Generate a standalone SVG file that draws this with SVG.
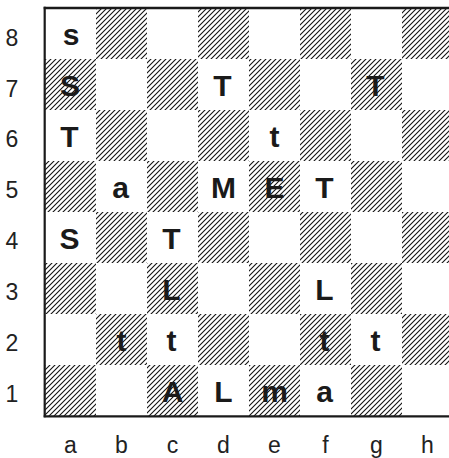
<svg xmlns="http://www.w3.org/2000/svg" width="449" height="458" viewBox="0 0 449 458">
<defs>
<pattern id="hatch" patternUnits="userSpaceOnUse" width="5" height="5">
<path d="M0,5 L5,0 M-1,1 L1,-1 M4,6 L6,4" stroke="#111" stroke-width="1.1"/>
</pattern>
</defs>
<style>
.dk{fill:url(#hatch)}
.pc{font-family:"Liberation Sans",Arial,sans-serif;font-weight:bold;font-size:30px;fill:#1a1a1a;text-anchor:middle}
.lb{font-family:"Liberation Sans",Arial,sans-serif;font-size:23px;fill:#222;text-anchor:middle}
.bd{stroke:#1a1a1a;fill:none}
</style>
<rect width="449" height="458" fill="#fff"/>
<g id="squares">
<rect class="dk" x="96" y="8" width="51" height="51"/><rect class="dk" x="198" y="8" width="51" height="51"/><rect class="dk" x="300" y="8" width="51" height="51"/><rect class="dk" x="402" y="8" width="51" height="51"/>
<rect class="dk" x="45" y="59" width="51" height="51"/><rect class="dk" x="147" y="59" width="51" height="51"/><rect class="dk" x="249" y="59" width="51" height="51"/><rect class="dk" x="351" y="59" width="51" height="51"/>
<rect class="dk" x="96" y="110" width="51" height="51"/><rect class="dk" x="198" y="110" width="51" height="51"/><rect class="dk" x="300" y="110" width="51" height="51"/><rect class="dk" x="402" y="110" width="51" height="51"/>
<rect class="dk" x="45" y="161" width="51" height="51"/><rect class="dk" x="147" y="161" width="51" height="51"/><rect class="dk" x="249" y="161" width="51" height="51"/><rect class="dk" x="351" y="161" width="51" height="51"/>
<rect class="dk" x="96" y="212" width="51" height="51"/><rect class="dk" x="198" y="212" width="51" height="51"/><rect class="dk" x="300" y="212" width="51" height="51"/><rect class="dk" x="402" y="212" width="51" height="51"/>
<rect class="dk" x="45" y="263" width="51" height="51"/><rect class="dk" x="147" y="263" width="51" height="51"/><rect class="dk" x="249" y="263" width="51" height="51"/><rect class="dk" x="351" y="263" width="51" height="51"/>
<rect class="dk" x="96" y="314" width="51" height="51"/><rect class="dk" x="198" y="314" width="51" height="51"/><rect class="dk" x="300" y="314" width="51" height="51"/><rect class="dk" x="402" y="314" width="51" height="51"/>
<rect class="dk" x="45" y="365" width="51" height="51"/><rect class="dk" x="147" y="365" width="51" height="51"/><rect class="dk" x="249" y="365" width="51" height="51"/><rect class="dk" x="351" y="365" width="51" height="51"/>
</g>
<g id="border">
<line class="bd" x1="43.7" y1="8" x2="449" y2="8" stroke-width="2.7"/>
<line class="bd" x1="44.7" y1="6.7" x2="44.7" y2="417.3" stroke-width="2.2"/>
<line class="bd" x1="43.7" y1="416.3" x2="449" y2="416.3" stroke-width="2.2"/>
</g>
<g id="pieces">
<g id="a8"><text class="pc" x="71" y="45">s</text></g>
<g id="a7"><text class="pc" x="70" y="96">S</text></g>
<g id="d7"><text class="pc" x="222.5" y="96">T</text></g>
<g id="g7"><text class="pc" x="375.5" y="96">T</text></g>
<g id="a6"><text class="pc" x="69.5" y="147">T</text></g>
<g id="e6"><text class="pc" x="274.5" y="147">t</text></g>
<g id="b5"><text class="pc" x="120.5" y="198">a</text></g>
<g id="d5"><text class="pc" x="223.5" y="198">M</text></g>
<g id="e5"><text class="pc" x="274.5" y="198">E</text></g>
<g id="f5"><text class="pc" x="324.5" y="198">T</text></g>
<g id="a4"><text class="pc" x="69.5" y="249">S</text></g>
<g id="c4"><text class="pc" x="171.5" y="249">T</text></g>
<g id="c3"><text class="pc" x="171.5" y="300">L</text></g>
<g id="f3"><text class="pc" x="324.5" y="300">L</text></g>
<g id="b2"><text class="pc" x="121.5" y="351">t</text></g>
<g id="c2"><text class="pc" x="171.5" y="351">t</text></g>
<g id="f2"><text class="pc" x="324.5" y="351">t</text></g>
<g id="g2"><text class="pc" x="375.5" y="351">t</text></g>
<g id="c1"><text class="pc" x="172.5" y="402">A</text></g>
<g id="d1"><text class="pc" x="223.5" y="402">L</text></g>
<g id="e1"><text class="pc" x="274.5" y="402">m</text></g>
<g id="f1"><text class="pc" x="324.5" y="402">a</text></g>
</g>
<g id="labels">
<text class="lb" x="12" y="46">8</text>
<text class="lb" x="12" y="97">7</text>
<text class="lb" x="12" y="147">6</text>
<text class="lb" x="12" y="198">5</text>
<text class="lb" x="12" y="249">4</text>
<text class="lb" x="12" y="300">3</text>
<text class="lb" x="12" y="351">2</text>
<text class="lb" x="12" y="402">1</text>
<text class="lb" x="70.5" y="453">a</text>
<text class="lb" x="121.5" y="453">b</text>
<text class="lb" x="172.5" y="453">c</text>
<text class="lb" x="223.5" y="453">d</text>
<text class="lb" x="274.5" y="453">e</text>
<text class="lb" x="325.5" y="453">f</text>
<text class="lb" x="376.5" y="453">g</text>
<text class="lb" x="427.5" y="453">h</text>
</g>
</svg>
